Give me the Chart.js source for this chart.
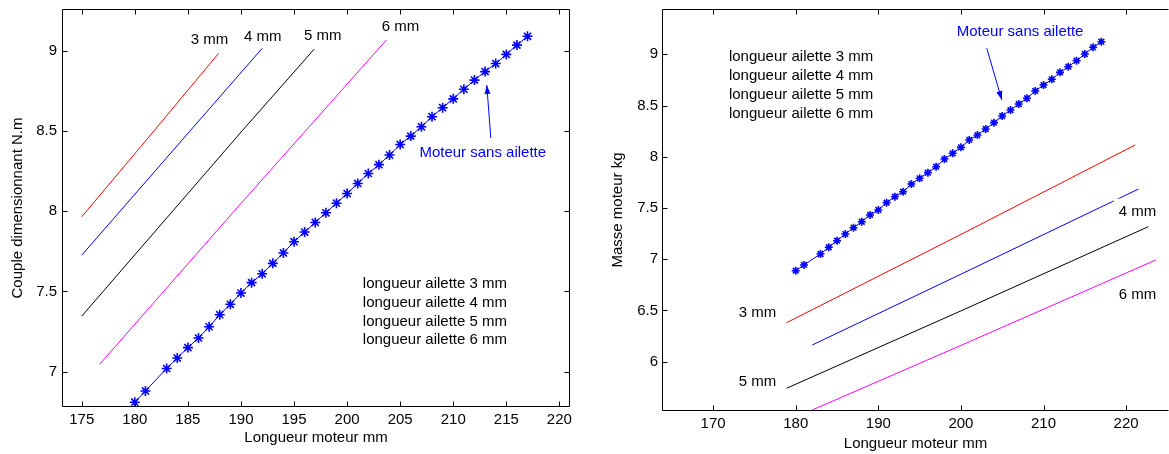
<!DOCTYPE html>
<html>
<head>
<meta charset="utf-8">
<script src="https://cdn.jsdelivr.net/npm/chart.js@4/dist/chart.umd.min.js"></script>
<style>
  html, body { margin: 0; padding: 0; background: #fff; }
  #wrap { position: relative; width: 1169px; height: 454px; }
  canvas { position: absolute; top: 0; }
  #left { left: 0; }
  #right { left: 585px; }
</style>
</head>
<body>
<div id="wrap">
  <canvas id="left" width="585" height="454"></canvas>
  <canvas id="right" width="584" height="454"></canvas>
</div>
<script>
// motor length (mm) for the "no fin" curve, same on both plots (182 missing)
const motorLength = [180, 181, 183, 184, 185, 186, 187, 188, 189, 190, 191, 192, 193, 194, 195, 196, 197, 198, 199,
  200, 201, 202, 203, 204, 205, 206, 207, 208, 209, 210, 211, 212, 213, 214, 215, 216, 217];

// left plot: torque N.m
const torqueNoFin = [6.81, 6.88, 7.02, 7.085, 7.15, 7.21, 7.28, 7.355, 7.42, 7.49, 7.555, 7.61, 7.675, 7.74, 7.81, 7.87, 7.93,
  7.99, 8.05, 8.11, 8.173, 8.235, 8.29, 8.35, 8.416, 8.468, 8.526, 8.589, 8.645, 8.70, 8.76, 8.817, 8.87, 8.92, 8.977, 9.035, 9.09];
const torqueLen3 = [175, 181.8, 187.9];
const torque3 = [7.965, 8.5, 8.984];
const torqueLen4 = [175, 185.2, 192.0];
const torque4 = [7.726, 8.5, 9.015];
const torqueLen5 = [175, 190.1, 196.9];
const torque5 = [7.346, 8.5, 9.01];
const torqueLen6 = [176.7, 189.35, 203.7];
const torque6 = [7.047, 8.0, 9.067];

// right plot: mass kg
const massNoFin = [6.888, 6.944, 7.051, 7.117, 7.181, 7.246, 7.308, 7.366, 7.432, 7.481, 7.552, 7.61, 7.659, 7.734, 7.79, 7.845,
  7.903, 7.978, 8.034, 8.092, 8.164, 8.212, 8.271, 8.333, 8.398, 8.456, 8.515, 8.571, 8.642, 8.70, 8.756, 8.824, 8.879, 8.938,
  9.003, 9.068, 9.123];
const massLen3 = [178.9, 200, 221.1];
const mass3 = [6.381, 7.242, 8.115];
const massLen4 = [182.0, 200, 221.5];
const mass4 = [6.163, 6.854, 7.685];
const massLen5 = [178.9, 200, 222.7];
const mass5 = [5.741, 6.496, 7.318];
const massLen6 = [182.0, 200, 223.6];
const mass6 = [5.529, 6.159, 6.993];

const leftXTicks = [175, 180, 185, 190, 195, 200, 205, 210, 215, 220];
const leftYTicks = [7, 7.5, 8, 8.5, 9];
const rightXTicks = [170, 180, 190, 200, 210, 220];
const rightYTicks = [6, 6.5, 7, 7.5, 8, 8.5, 9];

const legendLines = ['longueur ailette 3 mm', 'longueur ailette 4 mm', 'longueur ailette 5 mm', 'longueur ailette 6 mm'];

Chart.defaults.font.family = "'Liberation Sans', Arial, sans-serif";
Chart.defaults.font.size = 15;
Chart.defaults.color = '#000';

function pts(xs, ys) {
  return xs.map((x, i) => ({ x, y: ys[i] }));
}

function lineSet(xs, ys, color) {
  return { data: pts(xs, ys), showLine: true, borderColor: color, borderWidth: 1, pointRadius: 0, pointHoverRadius: 0 };
}

function starSet(xs, ys, r) {
  return {
    data: pts(xs, ys), showLine: true, borderColor: '#0000ff', backgroundColor: '#0000ff', borderWidth: 1,
    pointStyle: 'star', pointRadius: r, pointBorderWidth: 1.6, pointHoverRadius: r
  };
}

// matlab style box, inward ticks and text notes
const matlabFrame = {
  id: 'matlabFrame',
  afterDatasetsDraw(chart, args, opts) {
    const { ctx, scales: { x, y } } = chart;
    ctx.save();
    ctx.textBaseline = 'middle';
    ctx.textAlign = 'left';
    ctx.font = "15px 'Liberation Sans', Arial, sans-serif";
    (opts.notes || []).forEach(n => {
      const px = x.getPixelForValue(n.x), py = y.getPixelForValue(n.y);
      if (n.bg) {
        const w = ctx.measureText(n.text).width;
        ctx.fillStyle = n.bg;
        ctx.fillRect(px - 5, py - 13, w + 10, 26);
      }
      ctx.fillStyle = n.color || '#000';
      ctx.fillText(n.text, px, py);
    });
    if (opts.arrow) {
      const a = opts.arrow;
      const x0 = x.getPixelForValue(a.from[0]), y0 = y.getPixelForValue(a.from[1]);
      const x1 = x.getPixelForValue(a.to[0]), y1 = y.getPixelForValue(a.to[1]);
      const ang = Math.atan2(y1 - y0, x1 - x0);
      ctx.strokeStyle = '#0000ff';
      ctx.fillStyle = '#0000ff';
      ctx.lineWidth = 1;
      ctx.beginPath();
      ctx.moveTo(x0, y0);
      ctx.lineTo(x1, y1);
      ctx.stroke();
      ctx.beginPath();
      ctx.moveTo(x1, y1);
      ctx.lineTo(x1 - 9 * Math.cos(ang) + 3 * Math.sin(ang), y1 - 9 * Math.sin(ang) - 3 * Math.cos(ang));
      ctx.lineTo(x1 - 9 * Math.cos(ang) - 3 * Math.sin(ang), y1 - 9 * Math.sin(ang) + 3 * Math.cos(ang));
      ctx.closePath();
      ctx.fill();
    }
    ctx.restore();
  },
  afterDraw(chart, args, opts) {
    const { ctx, chartArea: a, scales: { x, y } } = chart;
    const L = Math.round(a.left) + 0.5, T = Math.round(a.top) + 0.5;
    const R = Math.round(a.right) - 0.5, B = Math.round(a.bottom) - 0.5;
    ctx.save();
    ctx.strokeStyle = '#000';
    ctx.lineWidth = 1;
    ctx.beginPath();
    ctx.moveTo(L, T); ctx.lineTo(L, B); ctx.lineTo(R, B);
    ctx.moveTo(L, T); ctx.lineTo(R, T);
    if (opts.rightSide) { ctx.moveTo(R, T); ctx.lineTo(R, B); }
    x.ticks.forEach(t => {
      const px = Math.round(x.getPixelForValue(t.value)) + 0.5;
      ctx.moveTo(px, B); ctx.lineTo(px, B - 5);
      ctx.moveTo(px, T); ctx.lineTo(px, T + 5);
    });
    y.ticks.forEach(t => {
      const py = Math.round(y.getPixelForValue(t.value)) + 0.5;
      ctx.moveTo(L, py); ctx.lineTo(L + 5, py);
      if (opts.rightSide) { ctx.moveTo(R, py); ctx.lineTo(R - 5, py); }
    });
    ctx.stroke();
    ctx.restore();
  }
};

function axes(xr, yr, xTicks, yTicks, yTitle, yWidth, xHeight, yTitlePad, xTitlePad, yTickPad, xTickPad) {
  return {
    x: {
      type: 'linear', min: xr[0], max: xr[1],
      grid: { display: false, drawTicks: false }, border: { display: false },
      afterBuildTicks: s => { s.ticks = xTicks.map(v => ({ value: v })); },
      afterFit: s => { s.height = xHeight; s.paddingLeft = 0; s.paddingRight = 0; },
      ticks: { padding: xTickPad, maxRotation: 0, autoSkip: false, callback: v => String(v) },
      title: { display: true, text: 'Longueur moteur mm', padding: { top: 0, bottom: xTitlePad } }
    },
    y: {
      type: 'linear', min: yr[0], max: yr[1],
      grid: { display: false, drawTicks: false }, border: { display: false },
      afterBuildTicks: s => { s.ticks = yTicks.map(v => ({ value: v })); },
      afterFit: s => { s.width = yWidth; s.paddingTop = 0; s.paddingBottom = 0; },
      ticks: { padding: yTickPad, autoSkip: false, callback: v => String(v) },
      title: { display: true, text: yTitle, padding: { top: yTitlePad, bottom: 0 } }
    }
  };
}

new Chart(document.getElementById('left'), {
  type: 'scatter',
  data: {
    datasets: [
      lineSet(torqueLen3, torque3, '#ff0000'),
      lineSet(torqueLen4, torque4, '#0000ff'),
      lineSet(torqueLen5, torque5, '#000000'),
      lineSet(torqueLen6, torque6, '#ff00ff'),
      starSet(motorLength, torqueNoFin, 5)
    ]
  },
  options: {
    responsive: false,
    animation: false,
    devicePixelRatio: 1,
    layout: { autoPadding: false, padding: { top: 9, right: 15, left: 0, bottom: 0 } },
    scales: axes([173.14, 221.0], [6.78, 9.26], leftXTicks, leftYTicks, 'Couple dimensionnant N.m', 62, 47, 9, 7, 5, 4),
    plugins: {
      legend: { display: false },
      tooltip: { enabled: false },
      matlabFrame: {
        rightSide: true,
        notes: [
          { text: '3 mm', x: 185.27, y: 9.067 },
          { text: '4 mm', x: 190.29, y: 9.087 },
          { text: '5 mm', x: 195.95, y: 9.093 },
          { text: '6 mm', x: 203.27, y: 9.146 },
          { text: 'Moteur sans ailette', x: 206.81, y: 8.364, color: '#0000ff' },
          ...legendLines.map((t, i) => ({ text: t, x: 201.48, y: 7.546 - i * 0.1165 }))
        ],
        arrow: { from: [213.54, 8.456], to: [213.16, 8.786] }
      }
    }
  },
  plugins: [matlabFrame]
});

new Chart(document.getElementById('right'), {
  type: 'scatter',
  data: {
    datasets: [
      lineSet(massLen3, mass3, '#ff0000'),
      lineSet(massLen4, mass4, '#0000ff'),
      lineSet(massLen5, mass5, '#000000'),
      lineSet(massLen6, mass6, '#ff00ff'),
      starSet(motorLength, massNoFin, 4)
    ]
  },
  options: {
    responsive: false,
    animation: false,
    devicePixelRatio: 1,
    layout: { autoPadding: false, padding: { top: 9, right: 0, left: 0, bottom: 0 } },
    scales: axes([163.81, 225.19], [5.519, 9.442], rightXTicks, rightYTicks, 'Masse moteur kg', 77, 43, 24, 1, 4, 4),
    plugins: {
      legend: { display: false },
      tooltip: { enabled: false },
      matlabFrame: {
        rightSide: false,
        notes: [
          { text: '3 mm', x: 173.09, y: 6.478 },
          { text: '5 mm', x: 173.09, y: 5.805 },
          { text: '4 mm', x: 219.1, y: 7.464, bg: '#fff' },
          { text: '6 mm', x: 219.1, y: 6.651 },
          { text: 'Moteur sans ailette', x: 199.49, y: 9.215, color: '#0000ff' },
          ...legendLines.map((t, i) => ({ text: t, x: 171.91, y: 8.971 - i * 0.1825 }))
        ],
        arrow: { from: [203.13, 9.059], to: [204.95, 8.554] }
      }
    }
  },
  plugins: [matlabFrame]
});
</script>
</body>
</html>
